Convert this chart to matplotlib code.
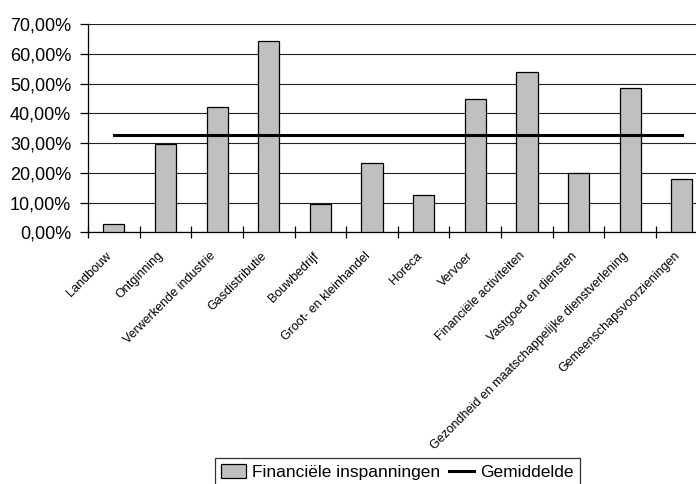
import matplotlib
matplotlib.use('Agg')
import matplotlib.pyplot as plt
from matplotlib.ticker import FuncFormatter
from matplotlib.transforms import ScaledTranslation

plt.rcParams['font.family'] = ['Liberation Sans Narrow', 'Liberation Sans', 'DejaVu Sans']

sectoren = ['Landbouw', 'Ontginning', 'Verwerkende industrie', 'Gasdistributie',
            'Bouwbedrijf', 'Groot- en kleinhandel', 'Horeca', 'Vervoer',
            'Financiële activiteiten', 'Vastgoed en diensten',
            'Gezondheid en maatschappelijke dienstverlening',
            'Gemeenschapsvoorzieningen']
inspanningen = [2.7, 29.6, 42.2, 64.3, 9.4, 23.4, 12.6, 44.8, 54.0, 19.8, 48.5, 18.0]
gemiddelde = [32.7] * len(sectoren)

fig = plt.figure(figsize=(6.96, 4.84), dpi=100)
# rechterrand valt net buiten de figuur
ax = fig.add_axes([88 / 696, 1 - 232.3 / 484, 619.7 / 696, 208.3 / 484])

x = range(len(sectoren))
staven = ax.bar(x, inspanningen, width=0.41, color='#C0C0C0', edgecolor='black',
                linewidth=0.9, zorder=3, label='Financiële inspanningen')
lijn, = ax.plot(x, gemiddelde, color='black', linewidth=2.2, zorder=4,
                label='Gemiddelde')

ax.set_xlim(-0.5, len(sectoren) - 0.5)
ax.set_ylim(0, 70)
ax.set_yticks(range(0, 71, 10))
ax.yaxis.set_major_formatter(FuncFormatter(lambda v, p: f'{v:.2f}%'.replace('.', ',')))
ax.yaxis.grid(True, color='#222222', linewidth=0.8, zorder=0)

# kleine streepjes tussen de categorieën
ax.set_xticks([i - 0.5 for i in range(len(sectoren) + 1)], minor=False)
ax.set_xticklabels([])
ax.set_xticks(list(x), minor=True)
ax.set_xticklabels(sectoren, minor=True, rotation=45, ha='right', va='top',
                   rotation_mode='anchor', fontsize=9)
ax.tick_params(axis='x', which='minor', length=0, pad=14)
ax.tick_params(axis='x', which='major', direction='inout', length=9, width=0.9)
ax.tick_params(axis='y', direction='out', length=6, width=0.9, pad=6, labelsize=13)
verschuiving = ScaledTranslation(-8 / 100, 2 / 100, fig.dpi_scale_trans)
for lbl in ax.get_xticklabels(minor=True):
    lbl.set_transform(lbl.get_transform() + verschuiving)

for kant in ['top', 'right']:
    ax.spines[kant].set_visible(False)
ax.spines['left'].set_linewidth(0.9)
ax.spines['bottom'].set_linewidth(0.9)

leg = fig.legend(handles=[staven, lijn], loc='upper left',
                 bbox_to_anchor=(215 / 696, 1 - 458 / 484), borderaxespad=0,
                 ncol=2, fontsize=12.5, frameon=True, fancybox=False,
                 edgecolor='black', handlelength=1.45, handleheight=0.85,
                 handletextpad=0.35, columnspacing=0.5, borderpad=0.35)
leg.get_frame().set_linewidth(0.9)

fig.savefig('out.png', dpi=100)
